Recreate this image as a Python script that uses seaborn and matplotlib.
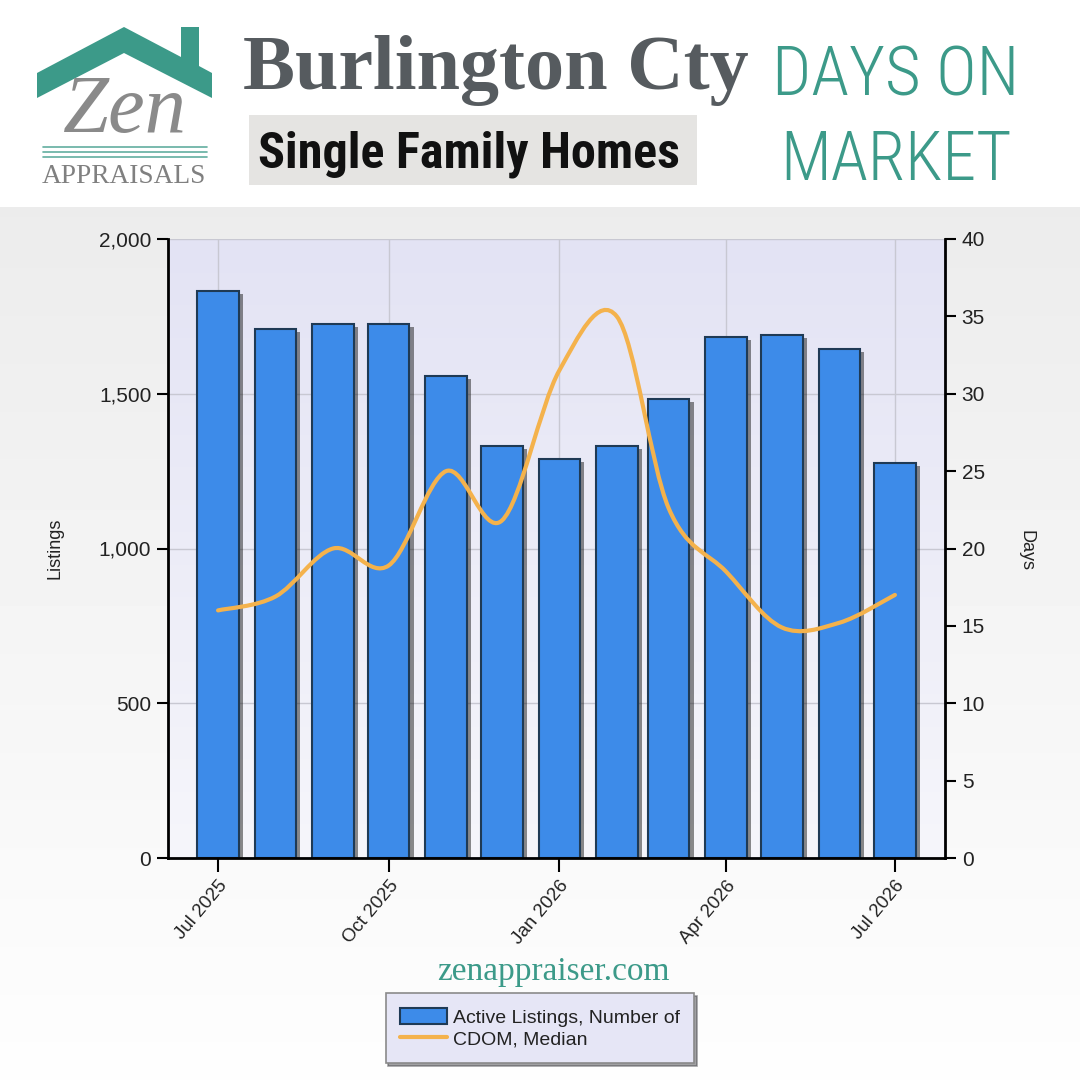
import seaborn as sns
import matplotlib.pyplot as plt
import matplotlib.dates as mdates
import matplotlib.patheffects as pe
import matplotlib.font_manager as fm
import numpy as np
import pandas as pd
from matplotlib.path import Path
from matplotlib.patches import PathPatch, Polygon, Rectangle, Patch
from matplotlib.lines import Line2D
from matplotlib.ticker import FuncFormatter, MultipleLocator

# データ
months = ['2025-07', '2025-08', '2025-09', '2025-10', '2025-11', '2025-12', '2026-01',
          '2026-02', '2026-03', '2026-04', '2026-05', '2026-06', '2026-07']
active_listings = [1832, 1709, 1725, 1725, 1557, 1331, 1289, 1331, 1483, 1683, 1690, 1645, 1276]
cdom_median = [16.0, 16.9, 20.0, 18.9, 25.0, 21.8, 31.5, 35.0, 22.6, 18.5, 14.9, 15.2, 17.0]

title = 'Burlington Cty'
subtitle = 'Single Family Homes'
topic = ['DAYS ON', 'MARKET']
site = 'zenappraiser.com'
legend_labels = ['Active Listings, Number of', 'CDOM, Median']

BAR = '#3d8be9'
BAR_EDGE = '#1f3a55'
LINE = '#f4b24c'
TEAL = '#3c9a89'

sns.set_theme(style='white')
plt.rcParams['font.family'] = ['Liberation Sans', 'DejaVu Sans']

installed = {f.name for f in fm.fontManager.ttflist}
narrow = next((n for n in ['Liberation Sans Narrow', 'Roboto Condensed', 'DejaVu Sans Condensed',
                           'Open Sans Condensed'] if n in installed), 'Liberation Sans')

fig = plt.figure(figsize=(10.8, 10.8), dpi=100)
renderer = fig.canvas.get_renderer()


def fit_width(t, target):
    bb = t.get_window_extent(renderer)
    t.set_fontsize(t.get_fontsize() * target / bb.width)


# 背景（ピクセル座標）
bg = fig.add_axes([0, 0, 1, 1])
bg.set_xlim(0, 1080)
bg.set_ylim(1080, 0)
bg.axis('off')
grad = np.linspace(0.925, 0.995, 256).reshape(-1, 1)
bg.imshow(grad, cmap='gray', vmin=0, vmax=1, extent=(0, 1080, 1080, 207), aspect='auto', zorder=0)
top = np.array([227, 227, 244]) / 255
bottom = np.array([246, 246, 251]) / 255
t = np.linspace(0, 1, 256).reshape(-1, 1, 1)
plot_grad = top * (1 - t) + bottom * t
bg.imshow(plot_grad, extent=(168, 945, 858, 239), aspect='auto', zorder=1)
bg.set_xlim(0, 1080)
bg.set_ylim(1080, 0)

# ロゴ
bg.add_patch(Polygon([(37, 73), (124, 27), (181, 57), (181, 27), (199, 27), (199, 66),
                      (212, 73), (212, 98), (124, 53), (37, 98)], closed=True,
                     facecolor=TEAL, edgecolor='none', zorder=2))
zen = bg.text(125, 132, 'Zen', family='Liberation Serif', style='italic', color='#8a8a8a',
              fontsize=60, ha='center', va='baseline', zorder=3)
fit_width(zen, 124)
for yy in [147, 152, 157]:
    bg.plot([43, 207], [yy, yy], color='#62ae9f', lw=1.2, zorder=2)
appr = bg.text(124, 183, 'APPRAISALS', family='Liberation Serif', color='#808080',
               fontsize=18, ha='center', va='baseline', zorder=3)
fit_width(appr, 164)

# タイトル
tt = bg.text(243, 89, title, family='Liberation Serif', weight='bold', color='#565b5f',
             fontsize=56, ha='left', va='baseline', zorder=3)
fit_width(tt, 506)
bg.add_patch(Rectangle((249, 115), 448, 70, facecolor='#e5e4e2', edgecolor='none', zorder=2))
st = bg.text(258, 167, subtitle, family=narrow, weight='bold', color='#111111',
             fontsize=36, ha='left', va='baseline', zorder=3)
fit_width(st, 422)
for txt, base, w in [(topic[0], 95, 247), (topic[1], 180, 231)]:
    tp = bg.text(896, base, txt, family=narrow, weight='light', color=TEAL, fontsize=48,
                 ha='center', va='baseline', zorder=3)
    fit_width(tp, w)

site_t = bg.text(553, 980, site, family='Liberation Serif', color=TEAL, fontsize=23,
                 ha='center', va='baseline', zorder=3)
fit_width(site_t, 233)

# メインチャート
ax = fig.add_axes([168 / 1080, 1 - 858 / 1080, 777 / 1080, 619 / 1080])
ax.set_facecolor('none')
dates = pd.to_datetime(months)
xs = mdates.date2num(dates)

sns.barplot(x=xs, y=active_listings, native_scale=True, color=BAR, saturation=1,
            edgecolor=BAR_EDGE, linewidth=1.5, errorbar=None, ax=ax, zorder=2)
for p in ax.patches:
    p.set_path_effects([pe.SimplePatchShadow(offset=(3, -2), shadow_rgbFace='#1a1a1a', alpha=0.5),
                        pe.Normal()])

ax.set_xlim(xs[0] - 27, xs[-1] + 27)
ax.set_ylim(0, 2000)
ax.yaxis.set_major_locator(MultipleLocator(500))
ax.yaxis.set_major_formatter(FuncFormatter(lambda v, p: f'{int(v):,}'))
ax.xaxis.set_major_locator(mdates.MonthLocator(bymonth=[1, 4, 7, 10]))
ax.xaxis.set_major_formatter(mdates.DateFormatter('%b %Y'))
ax.grid(True, color='#c8c8d2', lw=1)
ax.set_axisbelow(True)
ax.set_xlabel('')
ax.set_ylabel('')

for s in ['top', 'right']:
    ax.spines[s].set_visible(False)
for s in ['left', 'bottom']:
    ax.spines[s].set_color('black')
    ax.spines[s].set_linewidth(2)
ax.tick_params(axis='y', direction='out', length=8, width=1.5, color='black',
               labelsize=15, labelcolor='#222222', left=True, pad=4)
ax.tick_params(axis='x', direction='out', length=10, width=1.5, color='black',
               labelsize=13.5, labelcolor='#222222', bottom=True, pad=4)
plt.setp(ax.get_xticklabels(), rotation=50, ha='right', rotation_mode='anchor')

# CDOM（右軸）
ax2 = ax.twinx()
ax2.set_ylim(0, 40)
ax2.yaxis.set_major_locator(MultipleLocator(5))
for s in ['top', 'left', 'bottom']:
    ax2.spines[s].set_visible(False)
ax2.spines['right'].set_color('black')
ax2.spines['right'].set_linewidth(2)
ax2.tick_params(axis='y', direction='out', length=8, width=1.5, color='black',
                labelsize=15, labelcolor='#222222', right=True, pad=4)
ax2.grid(False)

# 平滑化した線（Catmull-Rom → ベジェ）
pts = list(zip(xs, cdom_median))
n = len(pts)
verts = [pts[0]]
codes = [Path.MOVETO]
for i in range(n - 1):
    p0, p1 = pts[max(i - 1, 0)], pts[i]
    p2, p3 = pts[i + 1], pts[min(i + 2, n - 1)]
    c1 = (p1[0] + (p2[0] - p0[0]) / 6, p1[1] + (p2[1] - p0[1]) / 6)
    c2 = (p2[0] - (p3[0] - p1[0]) / 6, p2[1] - (p3[1] - p1[1]) / 6)
    verts += [c1, c2, p2]
    codes += [Path.CURVE4] * 3
ax2.add_patch(PathPatch(Path(verts, codes), fill=False, edgecolor=LINE, lw=3,
                        capstyle='round', joinstyle='round', zorder=3))

fig.text(55 / 1080, 1 - 548 / 1080, 'Listings', rotation=90, ha='center', va='center',
         fontsize=13, color='#222222')
fig.text(1026 / 1080, 1 - 550 / 1080, 'Days', rotation=270, ha='center', va='center',
         fontsize=13, color='#222222')

# 凡例
handles = [Patch(facecolor=BAR, edgecolor=BAR_EDGE, lw=1.5),
           Line2D([0], [0], color=LINE, lw=3)]
leg = fig.legend(handles, legend_labels, loc='center', bbox_to_anchor=(540 / 1080, 1 - 1028 / 1080),
                 frameon=True, fancybox=False, shadow=True, facecolor='#e6e6f6',
                 edgecolor='#8a8a8a', fontsize=14, handlelength=2.4, handleheight=0.9,
                 borderpad=0.75, labelspacing=0.15, handletextpad=0.3, borderaxespad=0)
leg.get_frame().set_linewidth(1.2)
for txt in leg.get_texts():
    txt.set_color('#222222')

fig.savefig('out.png', dpi=100)
